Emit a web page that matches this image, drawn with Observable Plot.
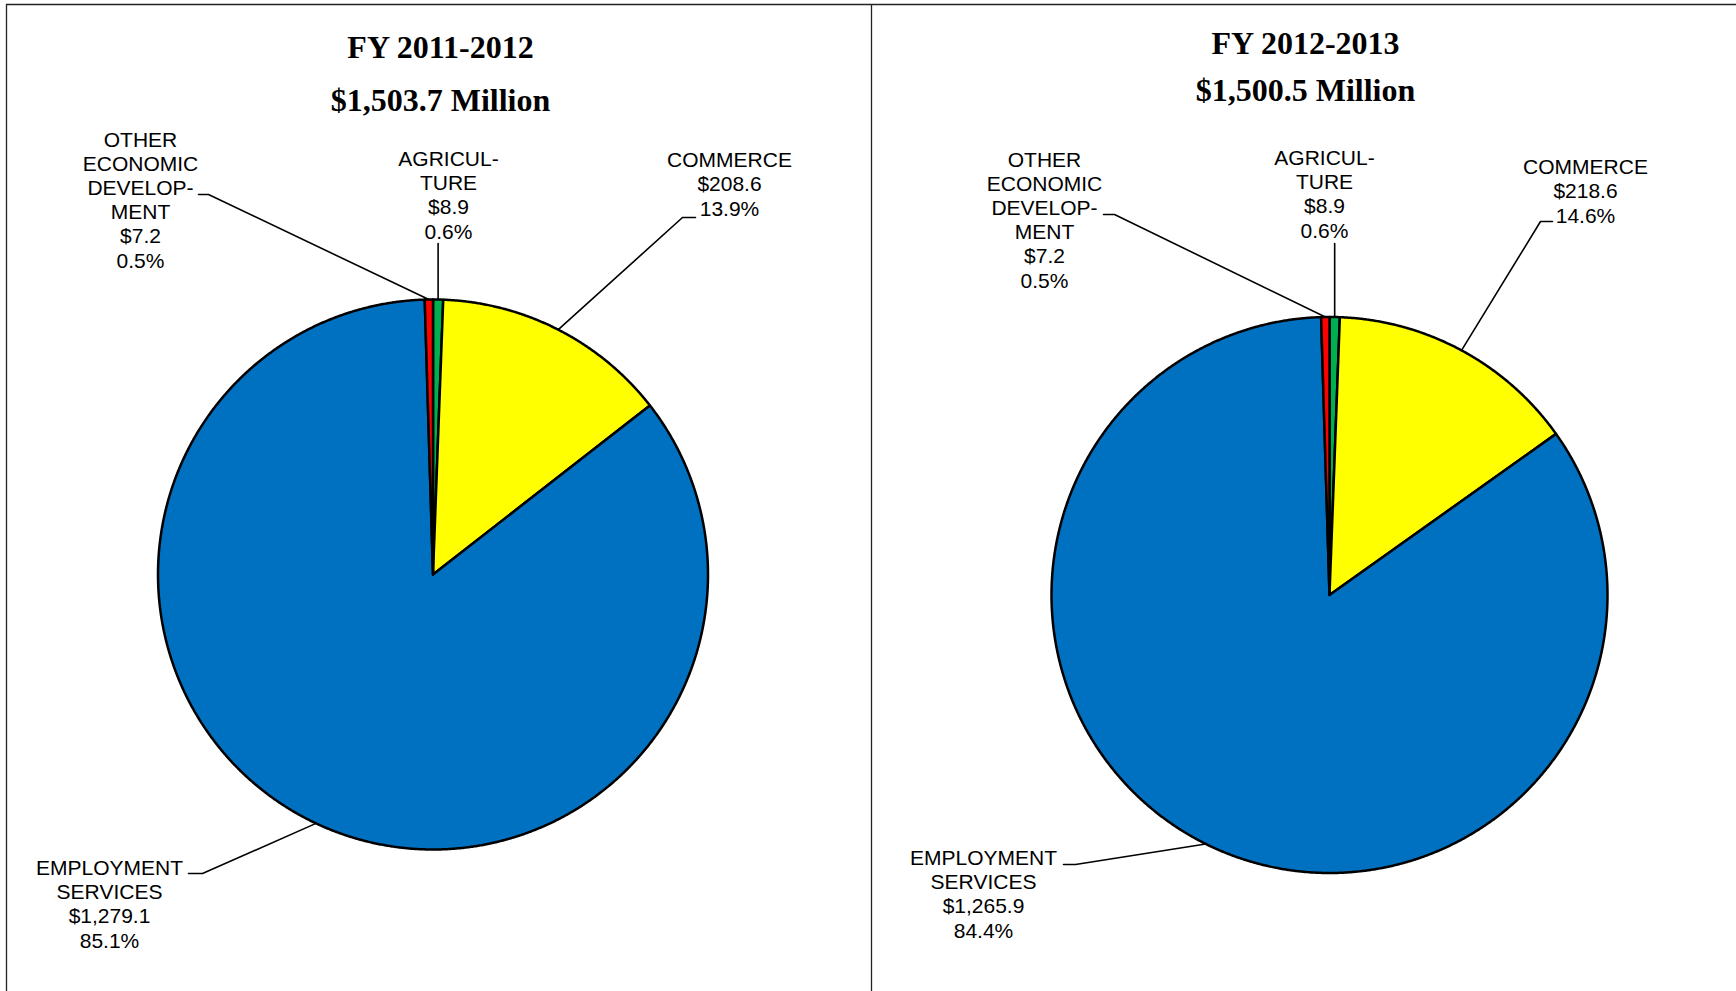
<!DOCTYPE html>
<html>
<head>
<meta charset="utf-8">
<script src="https://cdn.jsdelivr.net/npm/d3@7"></script>
<script src="https://cdn.jsdelivr.net/npm/@observablehq/plot@0.6"></script>
<style>
  body { margin: 0; background: #fff; }
  svg { display: block; }
</style>
</head>
<body>
<div id="chart"></div>
<script>
// ---------- DATA ----------
const categories = ["AGRICULTURE", "COMMERCE", "EMPLOYMENT SERVICES", "OTHER ECONOMIC DEVELOPMENT"];
const categoryLabels = ["AGRICUL-\nTURE", "COMMERCE", "EMPLOYMENT\nSERVICES", "OTHER\nECONOMIC\nDEVELOP-\nMENT"];
const fiscalYears = ["FY 2011-2012", "FY 2012-2013"];
const totalsMillions = [1503.7, 1500.5];
const fy2011_12Values = [8.9, 208.6, 1279.1, 7.2];
const fy2012_13Values = [8.9, 218.6, 1265.9, 7.2];
const seriesValues = [fy2011_12Values, fy2012_13Values];

// ---------- STYLE / LAYOUT ----------
const sliceColors = ["#00B050", "#FFFF00", "#0070C0", "#FF0000"];
const W = 1736, H = 991;
const pieLayout = [
  {cx: 432.5, cy: 574, r: 275, titleX: 440, titleY: [57, 110]},
  {cx: 1329, cy: 594.5, r: 278, titleX: 1305, titleY: [53, 100]}
];
// label anchor (center x, last baseline y) and leader hook [start x, end x, y] or vertical start y
const labelLayout = [
  [
    {x: 448, y: 238, vTop: 243},
    {x: 729, y: 215, hook: [695, 682, 217]},
    {x: 109, y: 947, hook: [188, 202, 873]},
    {x: 140, y: 267, hook: [198, 208, 194]}
  ],
  [
    {x: 1324, y: 237, vTop: 243},
    {x: 1585, y: 222, hook: [1552, 1540, 221]},
    {x: 983, y: 937, hook: [1063, 1075, 864]},
    {x: 1044, y: 287, hook: [1103, 1114, 214]}
  ]
];

// ---------- BUILD ROWS ----------
const fmtMoney = d3.format(",.1f");
const fmtPct = d3.format(".1%");
const sliceRows = [], leaderRows = [], labelRows = [], titleRows = [];
const step = Math.PI / 720;

seriesValues.forEach((values, p) => {
  const {cx, cy, r, titleX, titleY} = pieLayout[p];
  const arcs = d3.pie().sort(null).value(d => d)(values);
  arcs.forEach((a, i) => {
    const key = p + "-" + i;
    const n = Math.max(2, Math.ceil((a.endAngle - a.startAngle) / step));
    sliceRows.push({key, color: sliceColors[i], x: cx, y: cy});
    for (let k = 0; k <= n; ++k) {
      const t = a.startAngle + (a.endAngle - a.startAngle) * k / n;
      sliceRows.push({key, color: sliceColors[i], x: cx + r * Math.sin(t), y: cy - r * Math.cos(t)});
    }
    sliceRows.push({key, color: sliceColors[i], x: cx, y: cy});

    const mid = (a.startAngle + a.endAngle) / 2;
    const ex = cx + r * Math.sin(mid), ey = cy - r * Math.cos(mid);
    const L = labelLayout[p][i];
    if (L.hook) {
      leaderRows.push({key, x: L.hook[0], y: L.hook[2]});
      leaderRows.push({key, x: L.hook[1], y: L.hook[2]});
    } else {
      leaderRows.push({key, x: ex, y: L.vTop});
    }
    leaderRows.push({key, x: ex, y: ey});

    labelRows.push({
      x: L.x, y: L.y,
      text: categoryLabels[i] + "\n$" + fmtMoney(values[i]) + "\n" + fmtPct(values[i] / totalsMillions[p])
    });
  });
  titleRows.push({x: titleX, y: titleY[0], text: fiscalYears[p]});
  titleRows.push({x: titleX, y: titleY[1], text: "$" + fmtMoney(totalsMillions[p]) + " Million"});
});

// ---------- PLOT ----------
const chart = Plot.plot({
  width: W,
  height: H,
  margin: 0,
  x: {domain: [0, W], range: [0, W], axis: null},
  y: {domain: [0, H], range: [0, H], axis: null},
  color: {type: "identity"},
  style: {background: "#fff"},
  marks: [
    Plot.ruleY([4], {x1: 6, x2: W, stroke: "#222", strokeWidth: 1.3}),
    Plot.ruleX([6, 871], {y1: 4, y2: H, stroke: "#222", strokeWidth: 1.3}),
    Plot.line(sliceRows, {x: "x", y: "y", z: "key", fill: "color", stroke: "#000", strokeWidth: 2.5, strokeLinejoin: "round", curve: "linear"}),
    Plot.line(leaderRows, {x: "x", y: "y", z: "key", stroke: "#000", strokeWidth: 1.6, curve: "linear"}),
    Plot.text(labelRows, {
      x: "x", y: "y", text: "text", lineAnchor: "bottom", lineHeight: 1.152,
      fontSize: 21, fontFamily: "'Liberation Sans', Arial, sans-serif", fill: "#000", textAnchor: "middle"
    }),
    Plot.text(titleRows, {
      x: "x", y: "y", text: "text", lineAnchor: "bottom",
      fontSize: 32, fontWeight: "bold", fontFamily: "'Liberation Serif', 'Times New Roman', serif", fill: "#000", textAnchor: "middle"
    })
  ]
});
document.getElementById("chart").appendChild(chart);
</script>
</body>
</html>
